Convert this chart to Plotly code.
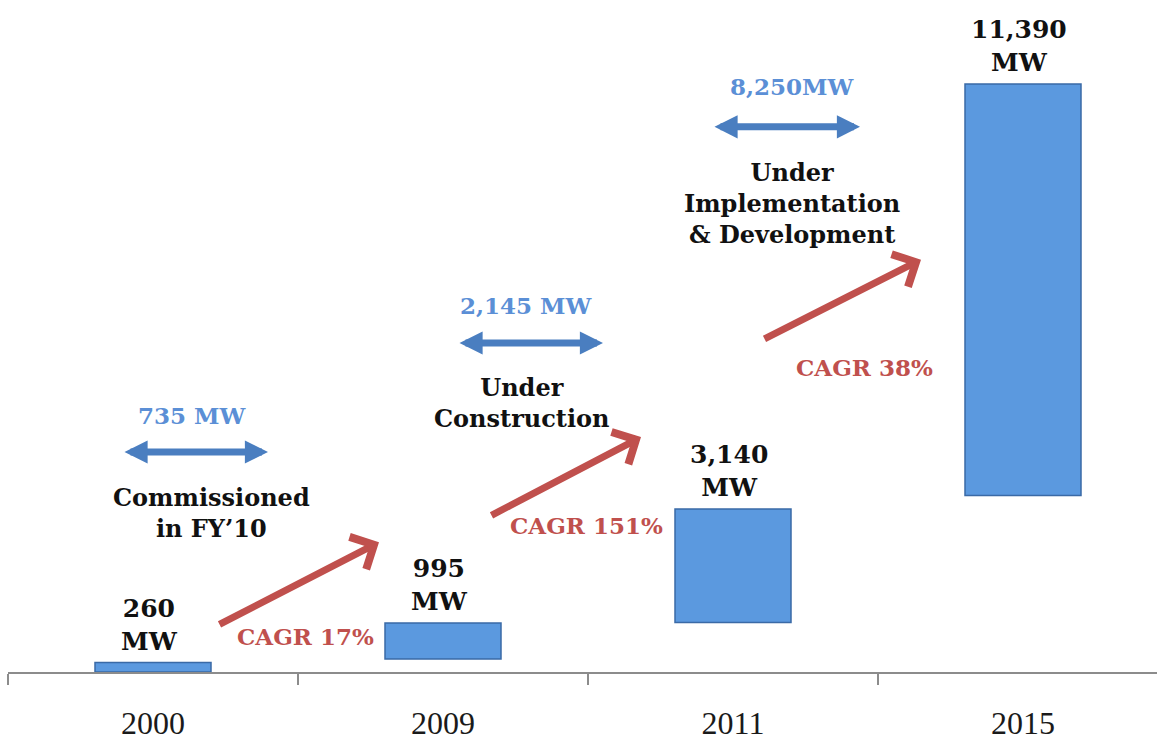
import plotly.graph_objects as go

# ---------------- data ----------------
years = ["2000", "2009", "2011", "2015"]
capacity_mw = [260, 995, 3140, 11390]
bar_base_mw = [0, 360, 1370, 4890]

stage_mw = ["735 MW", "2,145 MW", "8,250MW"]
stage_names = ["Commissioned<br>in FY’10", "Under<br>Construction",
               "Under<br>Implementation<br>& Development"]
cagr_labels = ["CAGR 17%", "CAGR 151%", "CAGR 38%"]

# ---------------- layout geometry ----------------
W, H = 1157, 741
ML, MB = 8, 63
PW, PH = W - ML, H - MB
CAT_PX = 290.0
PX_PER_MW = 0.036437

def fx(x):  # figure pixel -> paper x
    return (x - ML) / PW

def fy(y):  # figure pixel -> paper y
    return (PH - y) / PH

def b(t):
    return "<b>" + t.replace("<br>", "</b><br><b>") + "</b>"

BOLD = "DejaVu Serif"
BAR_BLUE = "#5b99df"
ARROW_BLUE = "#4a7ec0"
TEXT_BLUE = "#5b8fd6"
RED = "#c0504d"

fig = go.Figure()
fig.add_trace(go.Bar(
    x=years, y=capacity_mw, base=bar_base_mw, width=0.4,
    marker=dict(color=BAR_BLUE, line=dict(color="#3a6aa6", width=1.5)),
    hoverinfo="skip", showlegend=False,
))

ann = []
# bar value labels
for i, (v, bs) in enumerate(zip(capacity_mw, bar_base_mw)):
    ann.append(dict(x=i, y=bs + v, xref="x", yref="y", xanchor="center",
                    yanchor="bottom", text=b(f"{v:,}<br>MW"), showarrow=False,
                    yshift=5, xshift=-4,
                    font=dict(family=BOLD, size=25, color="#111111")))

# stage blocks (blue value, double arrow, black caption)
stage_pos = [  # (caption x, blue text x, blue text y, arrow left, arrow right, arrow y, caption top)
    (211, 192, 419, 123, 268, 456, 485),
    (522, 526, 308, 458, 603, 346, 374),
    (792, 792, 87, 713, 860, 128, 157),
]
for (cx, bx, ty, al, ar, ay_, cap), mw, name in zip(stage_pos, stage_mw, stage_names):
    ann.append(dict(x=fx(bx), y=fy(ty), xref="paper", yref="paper", text=b(mw),
                    xanchor="center", yanchor="middle", showarrow=False,
                    font=dict(family=BOLD, size=23, color=TEXT_BLUE)))
    ann.append(dict(x=fx(ar), y=fy(ay_), xref="paper", yref="paper", text="",
                    showarrow=True, ax=al - ar, ay=0, axref="pixel", ayref="pixel",
                    arrowside="end+start", arrowhead=2, startarrowhead=2,
                    arrowwidth=7, arrowsize=0.66, startarrowsize=0.66,
                    standoff=0, startstandoff=0, arrowcolor=ARROW_BLUE))
    ann.append(dict(x=fx(cx), y=fy(cap), xref="paper", yref="paper",
                    xanchor="center", yanchor="top",
                    text=b(name), showarrow=False,
                    font=dict(family=BOLD, size=24, color="#111111")))

# CAGR arrows and labels
cagr_pos = [  # (tail x, tail y, head x, head y, label x, label y)
    (218, 630, 379, 547, 305, 642),
    (490, 520, 641, 441, 586, 530),
    (763, 342, 921, 262, 864, 371),
]
for (tx, ty, hx, hy, lx, ly), lab in zip(cagr_pos, cagr_labels):
    ann.append(dict(x=fx(hx), y=fy(hy), xref="paper", yref="paper", text="",
                    showarrow=True, ax=tx - hx, ay=ty - hy, axref="pixel", ayref="pixel",
                    arrowhead=4, arrowwidth=7, arrowsize=1.0, standoff=0,
                    arrowcolor=RED))
    ann.append(dict(x=fx(lx), y=fy(ly), xref="paper", yref="paper", text=b(lab),
                    xanchor="center", yanchor="middle", showarrow=False,
                    font=dict(family=BOLD, size=23, color=RED)))

fig.update_layout(
    width=W, height=H,
    margin=dict(l=ML, r=0, t=0, b=MB, pad=0),
    paper_bgcolor="white", plot_bgcolor="white",
    annotations=ann,
    xaxis=dict(
        type="category", range=[-0.5, -0.5 + PW / CAT_PX],
        showline=True, linecolor="#8c8c8c", linewidth=1.5,
        ticks="outside", tickson="boundaries", ticklen=11, tickcolor="#8c8c8c",
        tickwidth=1.5, showgrid=False, zeroline=False,
        tickfont=dict(family="Liberation Serif", size=32, color="#1a1a1a"),
        ticklabelstandoff=22,
    ),
    yaxis=dict(range=[0, PH / PX_PER_MW], visible=False, showgrid=False,
               zeroline=False),
)

fig.write_html("out.html", config={"displayModeBar": False},
               post_script="document.body.style.margin='0';document.body.style.padding='0';")
